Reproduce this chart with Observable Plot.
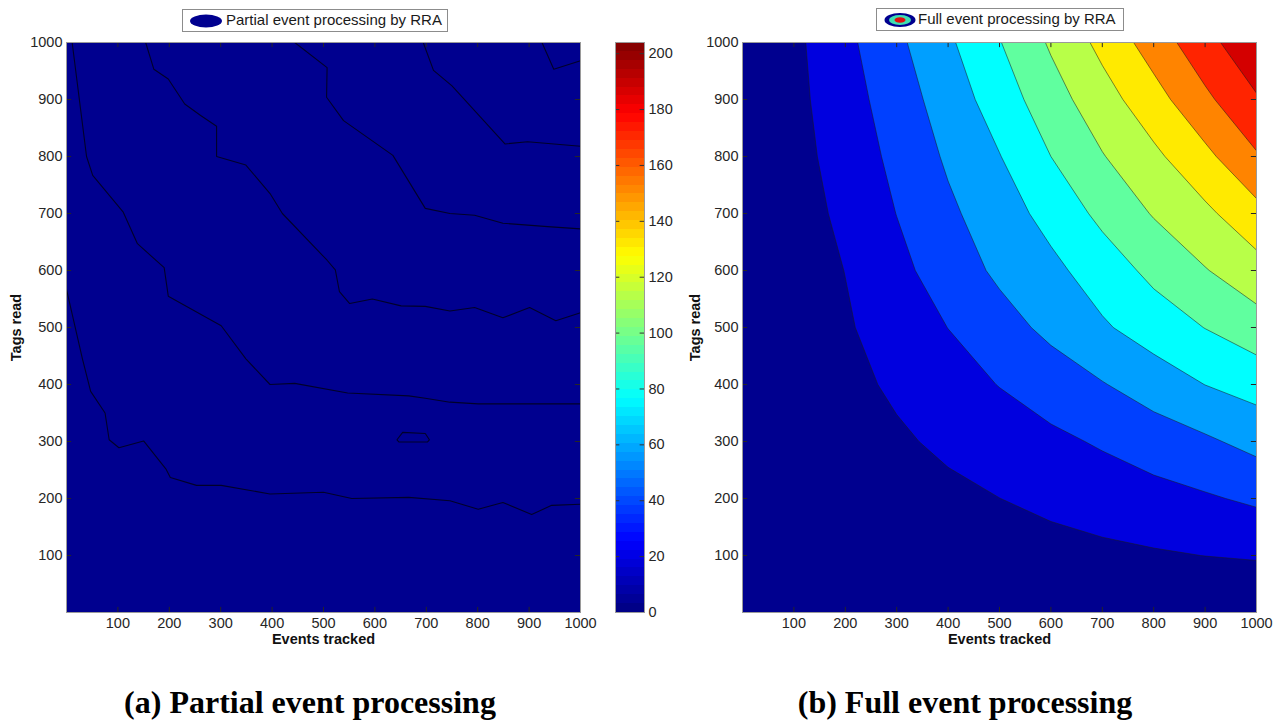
<!DOCTYPE html>
<html><head><meta charset="utf-8">
<script src="https://cdn.jsdelivr.net/npm/d3@7"></script>
<script src="https://cdn.jsdelivr.net/npm/@observablehq/plot@0.6"></script>
<style>
body{margin:0;background:#fff;}
#wrap{position:relative;width:1281px;height:721px;overflow:hidden;background:#fff;font-family:"Liberation Sans",Arial,sans-serif;}
#wrap svg.plotsvg{position:absolute;top:0;}
.legend{position:absolute;background:#fff;border:1px solid #8c8c8c;box-sizing:border-box;}
.legtext{position:absolute;font-size:15px;line-height:18px;color:#1a1a1a;white-space:nowrap;}
.cap{position:absolute;top:686px;font-family:"Liberation Serif","Times New Roman",serif;font-weight:bold;font-size:32px;line-height:32px;transform:translateX(-50%);white-space:nowrap;color:#000;}
</style></head><body><div id="wrap"></div>
<script>
// ---------- data ----------
const eventsTracked = [0,100,200,300,400,500,600,700,800,900,1000];   // x grid
const tagsRead      = [0,100,200,300,400,500,600,700,800,900,1000];   // y grid
const xTickValues = [100,200,300,400,500,600,700,800,900,1000];
const yTickValues = [100,200,300,400,500,600,700,800,900,1000];
const levels = [0,20,40,60,80,100,120,140,160,180,200];
const colorbarTicks = [0,20,40,60,80,100,120,140,160,180,200];
const colorbarMax = 204;

// (b) full event processing: value at (eventsTracked[i], tagsRead[j]); one row per tagsRead value
const full_t0    = [0,0,0,0,0,0,0,0,0,0,0];
const full_t100  = [0,2.3,4.5,6.8,9.0,11.3,13.5,15.8,18.0,20.2,21.9];
const full_t200  = [0,4.0,8.0,12.0,15.9,19.9,24.4,28.9,33.3,37.8,43.3];
const full_t300  = [0,5.8,11.6,17.4,23.4,29.5,35.7,42.2,49.6,56.9,66.2];
const full_t400  = [0,7.5,15.0,22.9,31.7,40.6,49.7,58.9,69.5,80.2,87.8];
const full_t500  = [0,8.9,17.9,28.7,40.2,52.4,64.7,77.5,89.2,100.4,111.4];
const full_t600  = [0,10.1,20.3,34.6,49.5,63.7,75.1,89.5,105.1,118.9,132.4];
const full_t700  = [0,11.5,24.2,40.3,56.3,70.8,86.6,104.9,121.4,135.8,153.6];
const full_t800  = [0,13.2,28.1,45.0,62.8,79.3,100,118.9,135.8,155,178];
const full_t900  = [0,14.7,31.3,50.1,69.3,89.6,111.5,131.8,152.3,175.8,198];
const full_t1000 = [0,15.5,35,55.7,76.7,99.1,122.5,145.5,169.3,193.1,216];

// (a) partial event processing: contour lines (events, tags)
const partialLine1 = [[0,567],[31,445],[47,388],[75,350],[83,303],[102,289],[150,301],[194,251],[202,237],[253,223],[301,223],[396,208],[500,211],[555,200],[666,202],[746,196],[801,181],[849,193],[905,172],[944,188],[1000,190]];
const partialLine2 = [[11,1000],[39,800],[51,767],[110,703],[138,647],[190,605],[198,555],[301,503],[349,445],[396,400],[444,402],[547,385],[666,380],[698,376],[746,369],[801,366],[905,366],[1000,366]];
const partialLine3 = [[154,1000],[170,953],[198,936],[230,892],[261,872],[292,853],[292,800],[349,785],[396,735],[420,700],[507,618],[523,601],[531,563],[551,542],[595,550],[651,538],[698,537],[746,529],[794,535],[849,517],[901,535],[952,512],[1000,526]];
const partialLine4 = [[444,1000],[507,956],[506,904],[539,863],[635,802],[698,709],[746,700],[794,697],[849,683],[936,677],[1000,673]];
const partialLine5 = [[694,1000],[714,951],[750,924],[853,822],[897,826],[1000,818]];
const partialLine6 = [[925,1000],[948,953],[1000,968]];
const partialLoop  = [[643,303],[654,316],[698,314],[706,303],[702,299],[647,299],[643,303]];

// ---------- styles ----------
const bandColors = ["#00008f","#0000df","#0040ff","#009fff","#00ffff","#60ff9f","#b8ff48","#ffea00","#ff8400","#ff2400","#d40000"];
const fontFam = '"Liberation Sans", Arial, sans-serif';
const fmt = d3.format("d");
function jet(t){
  const c = v => Math.max(0, Math.min(1, v));
  const r = c(1.5 - Math.abs(4*t - 3)), g = c(1.5 - Math.abs(4*t - 2)), b = c(1.5 - Math.abs(4*t - 1));
  return d3.rgb(r*255, g*255, b*255).formatHex();
}
function baseStyle(){ return {background:"transparent", overflow:"visible", fontFamily:fontFam, fontSize:"14.5px", color:"#262626"}; }
function tickRules(){
  const s = {stroke:"#262626", strokeWidth:1};
  return [
    Plot.ruleX(xTickValues, {x:d=>d, y1:0, y2:9, ...s}),
    Plot.ruleX(xTickValues, {x:d=>d, y1:991, y2:1000, ...s}),
    Plot.ruleY(yTickValues, {y:d=>d, x1:0, x2:10, ...s}),
    Plot.ruleY(yTickValues, {y:d=>d, x1:990, x2:1000, ...s})
  ];
}
function axisOpts(){ return {
  x:{domain:[0,1000], ticks:xTickValues, tickFormat:fmt, tickSize:0, tickPadding:5, label:null},
  y:{domain:[0,1000], ticks:yTickValues, tickFormat:fmt, tickSize:0, tickPadding:4, label:null}
};}
function axisTitles(dxY){
  return [
    Plot.text(["Tags read"], {frameAnchor:"left", dx:dxY, rotate:-90, textAnchor:"middle", lineAnchor:"middle", fontWeight:"bold", fontSize:14.5, fill:"#111"}),
    Plot.text(["Events tracked"], {frameAnchor:"bottom", dy:27, textAnchor:"middle", lineAnchor:"middle", fontWeight:"bold", fontSize:14.5, fill:"#111"})
  ];
}

const wrap = document.getElementById("wrap");

// ---------- panel (a) ----------
const partialLines = [partialLine1, partialLine2, partialLine3, partialLine4, partialLine5, partialLine6, partialLoop];
const plotA = Plot.plot({
  width:600, height:650, marginLeft:66, marginRight:20, marginTop:42, marginBottom:38,
  style: baseStyle(), ...axisOpts(),
  marks:[
    Plot.frame({fill: bandColors[0]}),
    ...partialLines.map(pts => Plot.line(pts, {x:d=>d[0], y:d=>d[1], stroke:"#000010", strokeWidth:1.1, strokeOpacity:0.8})),
    ...tickRules(),
    Plot.frame({stroke:"#9a9a9a"}),
    ...axisTitles(-50)
  ]
});
plotA.classList.add("plotsvg"); plotA.style.left = "0px";
wrap.appendChild(plotA);

// ---------- colorbar ----------
const cbSteps = d3.range(64);
const plotCB = Plot.plot({
  width:80, height:650, marginLeft:15, marginRight:36, marginTop:42, marginBottom:38,
  style: baseStyle(),
  x:{domain:[0,1], axis:null},
  y:{domain:[0,colorbarMax], ticks:colorbarTicks, tickFormat:fmt, tickSize:0, tickPadding:4, axis:"right", label:null},
  marks:[
    Plot.rect(cbSteps, {x1:0, x2:1, y1:i=>i*colorbarMax/64, y2:i=>(i+1)*colorbarMax/64, fill:i=>jet((i+0.5)/64), shapeRendering:"crispEdges"}),
    Plot.ruleY(colorbarTicks, {y:d=>d, x1:0, x2:0.15, stroke:"#333"}),
    Plot.ruleY(colorbarTicks, {y:d=>d, x1:0.85, x2:1, stroke:"#333"}),
    Plot.frame({stroke:"#9a9a9a"})
  ]
});
plotCB.classList.add("plotsvg"); plotCB.style.left = "600px";
wrap.appendChild(plotCB);

// ---------- panel (b) ----------
const fullValues = [full_t0, full_t100, full_t200, full_t300, full_t400, full_t500, full_t600, full_t700, full_t800, full_t900, full_t1000].flat();
const plotB = Plot.plot({
  width:601, height:650, marginLeft:62, marginRight:25, marginTop:42, marginBottom:38,
  style: baseStyle(), ...axisOpts(),
  color:{type:"threshold", domain:levels.slice(1), range:bandColors},
  marks:[
    Plot.contour(fullValues, {width:eventsTracked.length, height:tagsRead.length, x1:-50, x2:1050, y1:-50, y2:1050,
      thresholds:levels, fill:Plot.identity, stroke:"#1a1a1a", strokeWidth:0.7, strokeOpacity:0.75, clip:true}),
    ...tickRules(),
    Plot.frame({stroke:"#9a9a9a"}),
    ...axisTitles(-47)
  ]
});
plotB.classList.add("plotsvg"); plotB.style.left = "680px";
wrap.appendChild(plotB);

// ---------- legends ----------
function addLegend(left, top, width, label, ellipses, textLeft){
  const box = document.createElement("div");
  box.className = "legend";
  Object.assign(box.style, {left:left+"px", top:top+"px", width:width+"px", height:"23px"});
  wrap.appendChild(box);
  const ns = "http://www.w3.org/2000/svg";
  const svg = document.createElementNS(ns, "svg");
  svg.setAttribute("width", 36); svg.setAttribute("height", 16);
  Object.assign(svg.style, {position:"absolute", left:"5px", top:"3px"});
  for (const e of ellipses){
    const el = document.createElementNS(ns, "ellipse");
    el.setAttribute("cx", 18); el.setAttribute("cy", 8);
    el.setAttribute("rx", e.rx); el.setAttribute("ry", e.ry); el.setAttribute("fill", e.fill);
    svg.appendChild(el);
  }
  box.appendChild(svg);
  const t = document.createElement("div");
  t.className = "legtext"; t.textContent = label;
  Object.assign(t.style, {left:textLeft+"px", top:"1px"});
  box.appendChild(t);
}
addLegend(182, 9, 266, "Partial event processing by RRA", [{rx:16, ry:6.5, fill:"#00008f"}], 43);
addLegend(876, 8, 248, "Full event processing by RRA", [{rx:15.5, ry:7, fill:"#00008f"},{rx:11, ry:5, fill:"#40e0b0"},{rx:5.5, ry:2.8, fill:"#e01010"}], 41);

// ---------- captions ----------
function addCap(cx, text){
  const d = document.createElement("div");
  d.className = "cap"; d.style.left = cx + "px"; d.textContent = text;
  wrap.appendChild(d);
}
addCap(310, "(a) Partial event processing");
addCap(965, "(b) Full event processing");
</script></body></html>
